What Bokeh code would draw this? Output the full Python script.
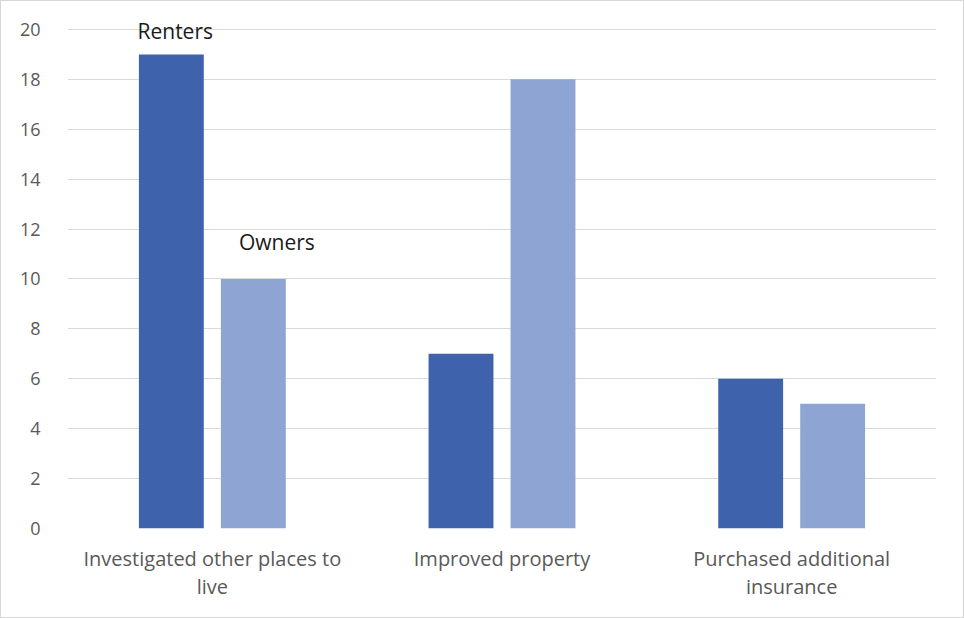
from bokeh.plotting import figure
from bokeh.models import FactorRange, ColumnDataSource, Label
from bokeh.transform import dodge
from bokeh.embed import file_html
from bokeh.resources import INLINE

categories = ["Investigated other places to\nlive", "Improved property", "Purchased additional\ninsurance"]
renters = [19, 7, 6]
owners = [10, 18, 5]
y_ticks = [0, 2, 4, 6, 8, 10, 12, 14, 16, 18, 20]

src = ColumnDataSource(dict(cat=categories, renters=renters, owners=owners))

FONT = "Open Sans"
p = figure(x_range=FactorRange(*categories, range_padding=0), y_range=(0, 21),
           width=964, height=618, output_backend="svg", toolbar_location=None,
           min_border_left=66, min_border_right=29, min_border_top=3, min_border_bottom=91)
p.styles = {"border": "1px solid #d6d6d6", "box-sizing": "border-box"}

p.vbar(x=dodge("cat", -0.1415, range=p.x_range), top="renters", width=0.224, source=src,
       fill_color="#3E63AC", line_color=None)
p.vbar(x=dodge("cat", 0.1415, range=p.x_range), top="owners", width=0.224, source=src,
       fill_color="#8EA4D3", line_color=None)

p.add_layout(Label(x=0.372, y=19.95, text="Renters", text_align="center", text_baseline="middle",
                   text_font=FONT, text_font_size="21px", text_color="#1a1a1a"))
p.add_layout(Label(x=0.723, y=11.5, text="Owners", text_align="center", text_baseline="middle",
                   text_font=FONT, text_font_size="21px", text_color="#1a1a1a"))

p.outline_line_color = None
p.xgrid.grid_line_color = None
p.ygrid.grid_line_color = "#d9d9d9"
p.ygrid.grid_line_width = 1
p.yaxis.ticker = y_ticks
p.yaxis.axis_line_color = None
p.yaxis.major_tick_line_color = None
p.yaxis.minor_tick_line_color = None
p.yaxis.major_label_standoff = 21
p.yaxis.major_label_text_font = FONT
p.yaxis.major_label_text_font_size = "18px"
p.yaxis.major_label_text_color = "#595959"

p.xaxis.axis_line_color = None
p.xaxis.major_tick_line_color = None
p.xaxis.major_label_standoff = 10
p.xaxis.major_label_text_font = FONT
p.xaxis.major_label_text_font_size = "20px"
p.xaxis.major_label_text_color = "#595959"
p.xaxis.major_label_text_line_height = 1.06

open("out.html", "w").write(file_html(p, INLINE))
